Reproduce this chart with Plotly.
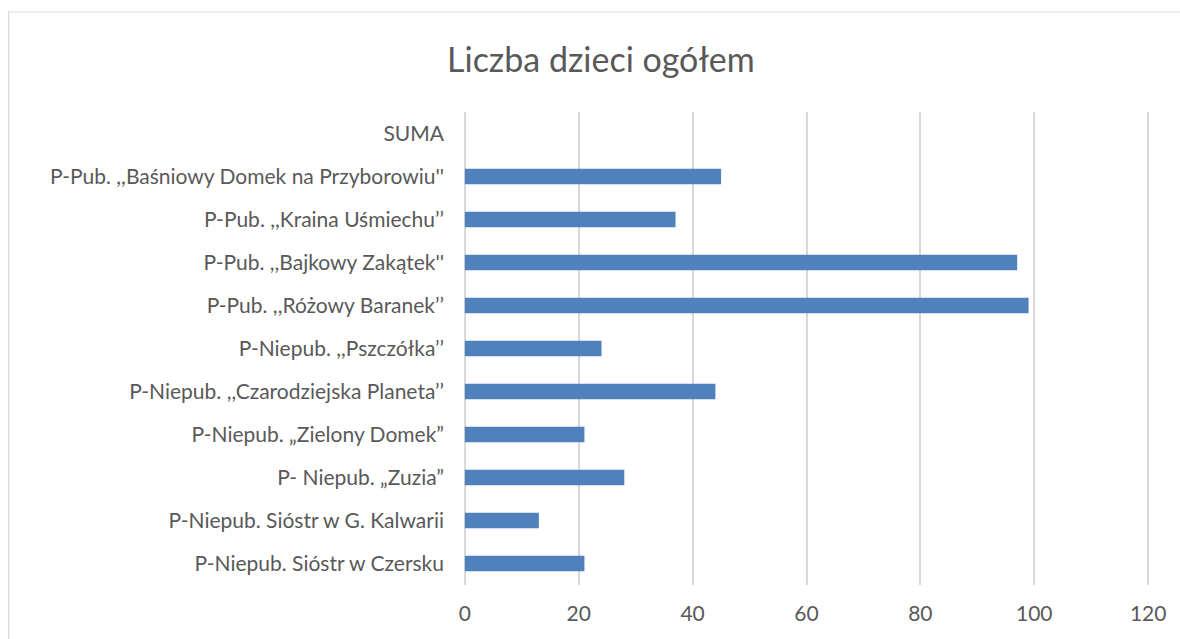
import plotly.graph_objects as go

categories = [
    "P-Niepub. Sióstr w Czersku",
    "P-Niepub. Sióstr w G. Kalwarii",
    "P- Niepub. „Zuzia”",
    "P-Niepub. „Zielony Domek”",
    "P-Niepub. ,,Czarodziejska Planeta’’",
    "P-Niepub. ,,Pszczółka’’",
    "P-Pub. ,,Różowy Baranek’’",
    "P-Pub. ,,Bajkowy Zakątek''",
    "P-Pub. ,,Kraina Uśmiechu’’",
    "P-Pub. ,,Baśniowy Domek na Przyborowiu''",
    "SUMA",
]
values = [21, 13, 28, 21, 44, 24, 99, 97, 37, 45, None]
x_ticks = [0, 20, 40, 60, 80, 100, 120]

W, H = 1180, 639
x0_px, x120_px = 465, 1148
u = (x120_px - x0_px) / 120.0
pad = 0.5
L = x0_px - pad * u
R = W - (x120_px + pad * u)
T, B = 112, 54
pw, ph = W - L - R, H - T - B

fig = go.Figure(go.Bar(
    y=categories, x=values, orientation="h",
    marker=dict(color="#4F81BD", line=dict(width=0)),
    width=0.36,
))

font_family = "Lato, Open Sans, sans-serif"

fig.update_layout(
    width=W, height=H,
    margin=dict(l=L, r=R, t=T, b=B),
    paper_bgcolor="white", plot_bgcolor="white",
    showlegend=False,
    title=dict(text="Liczba dzieci ogółem", x=(601 - L) / pw,
               xref="paper", xanchor="center",
               y=1 - 60 / H, yanchor="middle",
               font=dict(family=font_family, size=34, color="#595959")),
    xaxis=dict(range=[-pad, 120 + pad], tickvals=x_ticks, showgrid=True,
               gridcolor="#D9D9D9", gridwidth=1.5, zeroline=False,
               showline=False, ticks="", ticklabelstandoff=14,
               tickfont=dict(family=font_family, size=21, color="#595959")),
    yaxis=dict(categoryorder="array", categoryarray=categories,
               range=[-0.5, len(categories) - 0.5],
               showgrid=False, zeroline=False, showline=False, ticks="",
               ticklabelstandoff=int(round(20 - pad * u)),
               tickfont=dict(family=font_family, size=21, color="#595959")),
    shapes=[dict(type="rect", xref="paper", yref="paper",
                 x0=(9 - L) / pw, x1=(W + 10 - L) / pw,
                 y0=(H - B - (H + 10)) / ph, y1=(H - B - 12) / ph,
                 line=dict(color="#D9D9D9", width=1.2), fillcolor="rgba(0,0,0,0)",
                 layer="below")],
)

fig.write_html("out.html", config={"displayModeBar": False},
               post_script="document.body.style.margin='0px';")
